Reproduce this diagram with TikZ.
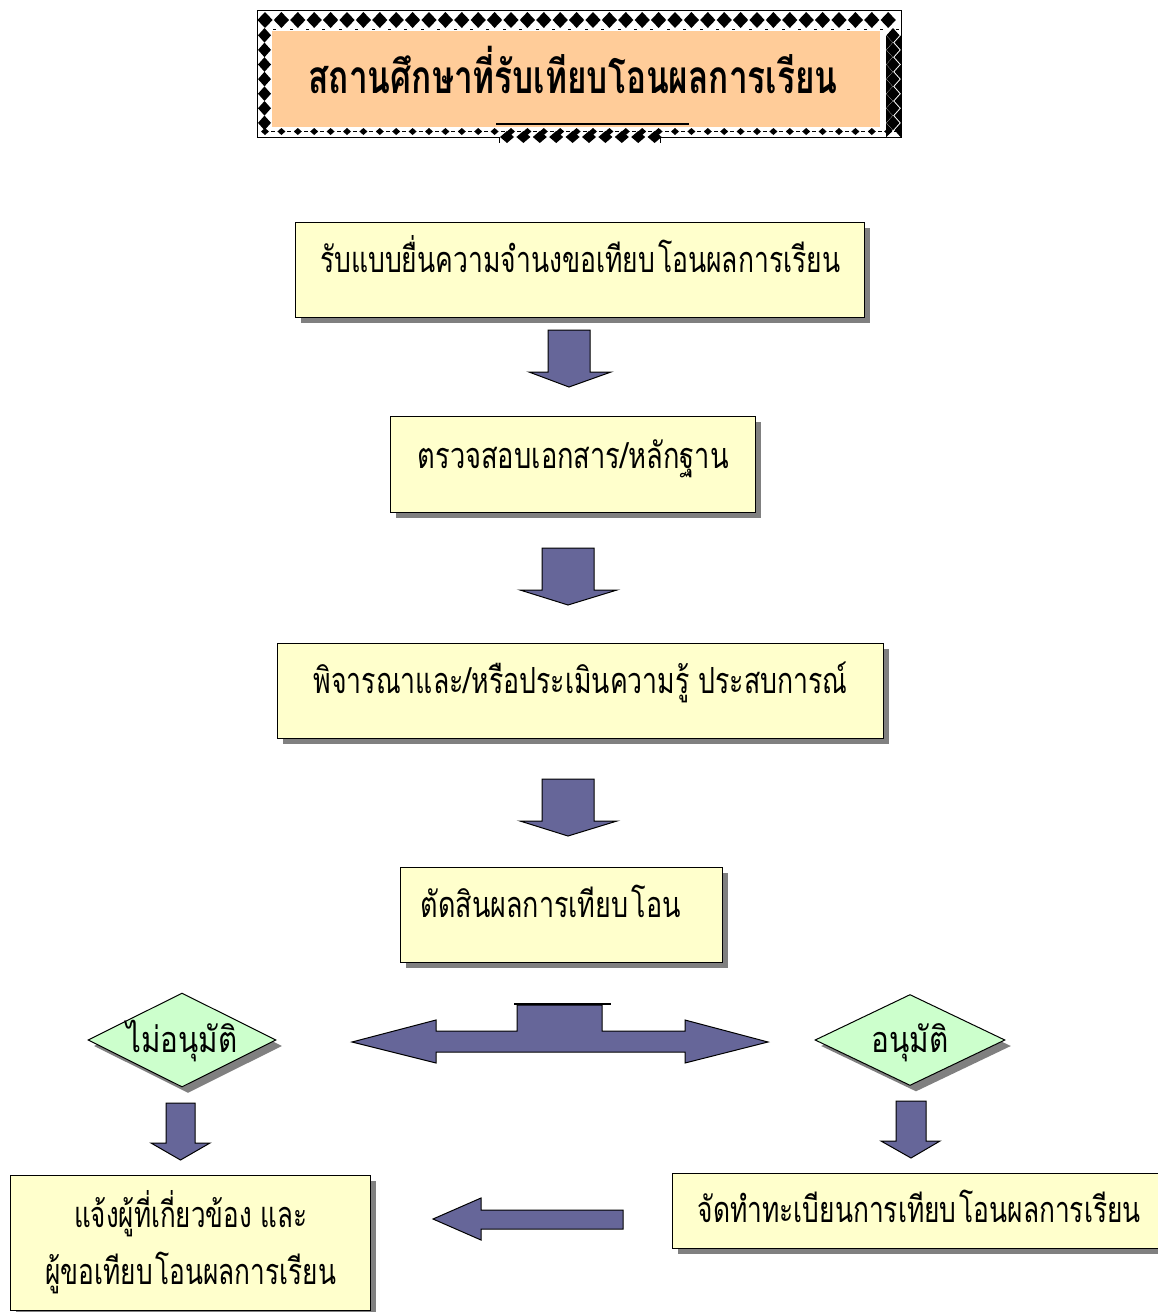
\documentclass[tikz,border=0pt]{standalone}
\usepackage{fontspec}
\newfontfamily\thai[Script=Thai]{Loma}
\usetikzlibrary{shapes.geometric,shadows}
\definecolor{boxfill}{HTML}{FFFFCC}
\definecolor{arrowfill}{HTML}{666699}
\definecolor{diafill}{HTML}{CCFFCC}
\definecolor{peach}{HTML}{FFCC99}
\definecolor{shadowgray}{HTML}{808080}
\newsavebox\fitbox
\newcommand\fitw[2]{\sbox\fitbox{#2}\pgfmathsetmacro\fitfac{#1/\the\wd\fitbox}\scalebox{\fitfac}[1]{\usebox\fitbox}}
\newcommand\thinsp{\hspace{4pt}}
\tikzset{
  box/.style={draw=black, line width=1.3pt, fill=boxfill, inner xsep=0pt, inner ysep=0pt,
    anchor=north west, font=\thai\fontsize{36}{57}\selectfont,
    drop shadow={shadow xshift=5pt, shadow yshift=-5pt, fill=shadowgray, opacity=1}},
  decision/.style={diamond, aspect=2, draw=black, line width=1pt, fill=diafill, inner sep=0pt,
    font=\thai\fontsize{36}{40}\selectfont, text height=24pt, text depth=0pt,
    drop shadow={shadow xshift=6pt, shadow yshift=-6pt, fill=shadowgray, opacity=1}},
  blockarrow/.style={fill=arrowfill, draw=black, line width=1pt, line join=miter},
}
\begin{document}
\begin{tikzpicture}[x=1pt,y=-1pt]
\useasboundingbox (0,0) rectangle (1158,1312);
\fill[white] (0,0) rectangle (1158,1312);

% ---- title frame ----
\fill[white] (257,10) rectangle (901,137);
\foreach \i in {0,...,38} {
  \fill[black] (265+\i*16.4,12) -- ++(7.6,8) -- ++(-7.6,8) -- ++(-7.6,-8) -- cycle;
  \fill[black] (273.2+\i*16.4,29) rectangle ++(3,1);
}
\foreach \j in {0,...,6} {
  \fill[black] (264.5,28+\j*14.6) -- ++(6.5,7.3) -- ++(-6.5,7.3) -- ++(-6.5,-7.3) -- cycle;
}
\foreach \j in {0,...,6} {
  \fill[black] (893,28+\j*14.6) -- ++(6.5,7.3) -- ++(-6.5,7.3) -- ++(-6.5,-7.3) -- cycle;
  \fill[black] (886,35.3+\j*14.6) -- ++(6.5,7.3) -- ++(-6.5,7.3) -- cycle;
  \fill[black] (901,35.3+\j*14.6) -- ++(-6.5,7.3) -- ++(6.5,7.3) -- cycle;
}
\foreach \i in {0,...,38} {
  \fill[black] (265+\i*16.4,128) -- ++(4,3.5) -- ++(-4,3.5) -- ++(-4,-3.5) -- cycle;
  \fill[black] (271+\i*16.4,131) rectangle ++(4,1.2);
}
\foreach \i in {0,...,9} {
  \fill[black] (507+\i*16.4,131) -- ++(7,6) -- ++(-7,6) -- ++(-7,-6) -- cycle;
}
\draw[line width=0.8pt] (499,137) -- (257,137) -- (257,10) -- (901,10) -- (901,137) -- (660,137);
\draw[line width=0.8pt] (499,137) -- (499,143) (660,137) -- (660,143);
\fill[peach] (272,31) rectangle (880,127);
\node[font=\thai\bfseries\fontsize{46}{50}\selectfont, anchor=base, inner sep=0pt] (title) at (573,93)
  {\fitw{529}{สถานศึกษาที่รับเทียบโอนผลการเรียน}};
\draw[line width=1.8pt] (496,124) -- (689,124);

% ---- process boxes ----
\node[box, minimum width=569pt, text height=50pt, text depth=45pt] (b1) at (295,222)
  {\fitw{520}{รับแบบยื่นความจำนงขอเทียบ\thinsp โอนผลการเรียน}};
\node[box, minimum width=365pt, text height=52pt, text depth=44pt] (b2) at (390,416)
  {\fitw{311}{ตรวจสอบเอกสาร/หลักฐาน}};
\node[box, minimum width=606pt, text height=50pt, text depth=45pt] (b3) at (277,643)
  {\fitw{534}{พิจารณาและ/หรือประเมินความรู้ ประสบการณ์}};
\node[box, minimum width=322pt, text height=50pt, text depth=45pt] (b4) at (400,867)
  {\fitw{260}{ตัดสินผลการเทียบ\thinsp โอน}\hspace*{22pt}};

% ---- decisions ----
\node[decision, minimum width=188pt, minimum height=94pt] (no) at (182,1040)
  {\fitw{111}{ไม่อนุมัติ}};
\node[decision, minimum width=190pt, minimum height=91pt] (yes) at (910,1040)
  {\fitw{77}{อนุมัติ}};

% ---- result boxes ----
\node[box, minimum width=360pt, text height=109pt, text depth=26pt] (b5) at (10,1175)
  {\begin{tabular}[b]{@{}c@{}}\fitw{233}{แจ้งผู้ที่เกี่ยวข้อง และ}\\ \fitw{291}{ผู้ขอเทียบ\thinsp โอนผลการเรียน}\end{tabular}};
\node[box, minimum width=493pt, text height=49pt, text depth=26pt] (b6) at (672,1173)
  {\fitw{443}{จัดทำทะเบียนการเทียบ\thinsp โอนผลการเรียน}};

% ---- block arrows ----
\draw[blockarrow] (548,330) -- (590,330) -- (590,372) -- (611,372) -- (569,387) -- (529,372) -- (548,372) -- cycle;
\draw[blockarrow] (542,548) -- (594,548) -- (594,590) -- (617,590) -- (568,605) -- (520,590) -- (542,590) -- cycle;
\draw[blockarrow] (542,779) -- (594,779) -- (594,821) -- (617,821) -- (568,836) -- (520,821) -- (542,821) -- cycle;
\draw[blockarrow] (352,1042) -- (436,1020) -- (436,1031) -- (517,1031) -- (517,1005) -- (602,1005) -- (602,1031)
  -- (685,1031) -- (685,1020) -- (768,1042) -- (685,1063) -- (685,1052) -- (436,1052) -- (436,1063) -- cycle;
\draw[line width=2pt] (514,1004) -- (611,1004);
\draw[blockarrow] (166,1103) -- (195,1103) -- (195,1143) -- (210,1143) -- (180.5,1160) -- (151,1143) -- (166,1143) -- cycle;
\draw[blockarrow] (896,1101) -- (926,1101) -- (926,1141) -- (940,1141) -- (911,1158) -- (881,1141) -- (896,1141) -- cycle;
\draw[blockarrow] (433,1219) -- (481,1198) -- (481,1210) -- (623,1210) -- (623,1229) -- (481,1229) -- (481,1240) -- cycle;
\end{tikzpicture}
\end{document}
